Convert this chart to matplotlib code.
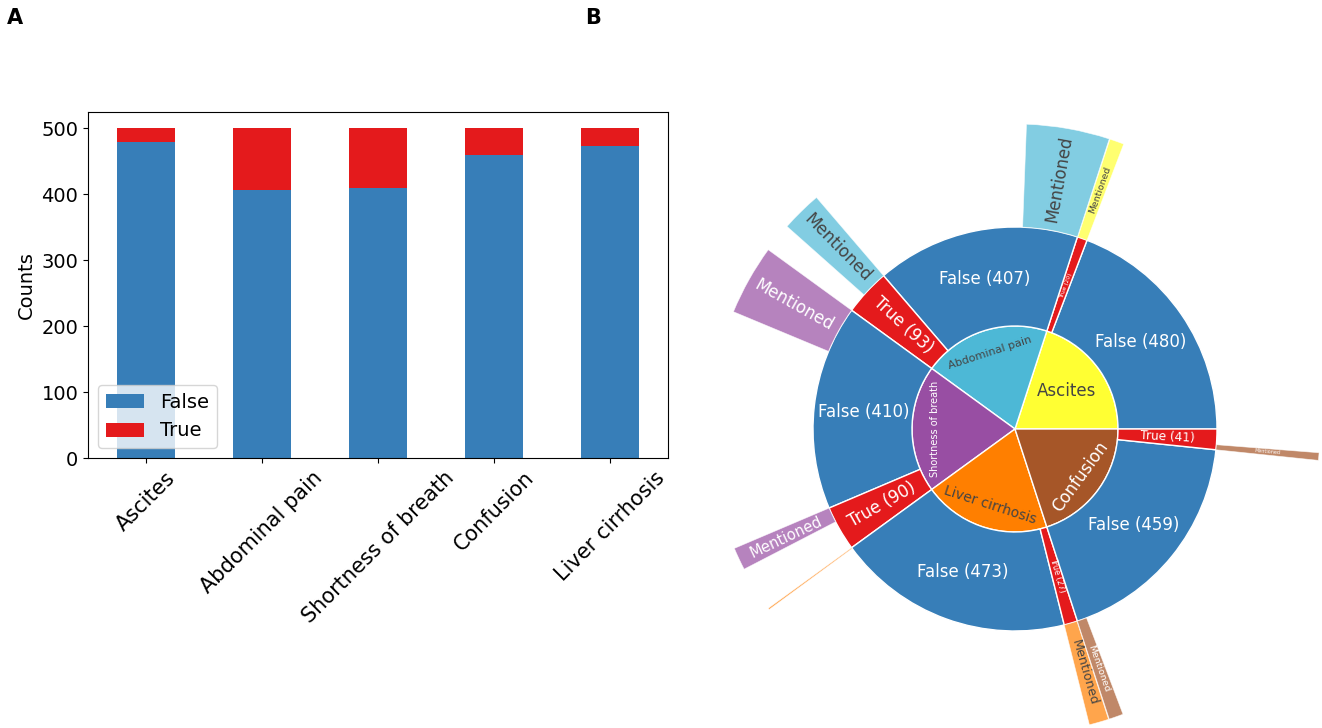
import matplotlib

matplotlib.use("Agg")

import math

import matplotlib.pyplot as plt
from matplotlib.patches import Wedge

# --- data -----------------------------------------------------------------
categories = ["Ascites", "Abdominal pain", "Shortness of breath", "Confusion", "Liver cirrhosis"]
false_counts = [480, 407, 410, 459, 473]
true_counts = [20, 93, 90, 41, 27]
# outer ring of panel B: "Mentioned" part of each False / True segment
mentioned_false = [0, 110, 93, 19, 2]
mentioned_true = [19, 54, 30, 10, 26]
# order of the symptoms around the sunburst (counter-clockwise from east)
sunburst_order = ["Ascites", "Abdominal pain", "Shortness of breath", "Liver cirrhosis", "Confusion"]

FALSE_COLOR = "#377EB8"
TRUE_COLOR = "#E41A1C"
SYMPTOM_COLORS = {
    "Ascites": "#FFFF33",
    "Abdominal pain": "#4DB8D6",
    "Shortness of breath": "#984EA3",
    "Liver cirrhosis": "#FF7F00",
    "Confusion": "#A65628",
}
# inner label style: orientation and font size
INNER_STYLE = {
    "Ascites": ("h", 12),
    "Abdominal pain": ("t", 8),
    "Shortness of breath": ("t", 7),
    "Liver cirrhosis": ("t", 10),
    "Confusion": ("t", 12),
}
DARK_TEXT = "#444444"
R1, R2, R3 = 103, 202, 305

plt.rcParams["font.family"] = "DejaVu Sans"

fig = plt.figure(figsize=(13.22, 7.28), dpi=100)

# --- panel A: stacked bars ------------------------------------------------
ax = fig.add_axes([88 / 1322, 1 - 458 / 728, 580 / 1322, 346 / 728])
x = range(len(categories))
ax.bar(x, false_counts, width=0.5, color=FALSE_COLOR, label="False")
ax.bar(x, true_counts, width=0.5, bottom=false_counts, color=TRUE_COLOR, label="True")
ax.set_xlim(-0.5, len(categories) - 0.5)
ax.set_ylim(0, 525)
ax.set_xticks(list(x))
ax.set_xticklabels(categories, rotation=45, fontsize=15)
ax.set_yticks([0, 100, 200, 300, 400, 500])
ax.tick_params(axis="y", labelsize=14)
ax.set_ylabel("Counts", fontsize=14)
ax.legend(loc="lower left", fontsize=14)


# --- panel B: sunburst ----------------------------------------------------
def is_light(hex_color):
    r, g, b = (int(hex_color[i:i + 2], 16) for i in (1, 3, 5))
    return (r * 299 + g * 587 + b * 114) / 1000 > 128


def radial_rotation(angle):
    a = (angle + 180) % 360 - 180
    if a > 90:
        a -= 180
    elif a < -90:
        a += 180
    return a


def tangential_rotation(angle):
    return radial_rotation(angle - 90)


def place(axis, text, angle, radius, rotation, size, color):
    rad = math.radians(angle)
    axis.text(radius * math.cos(rad), radius * math.sin(rad), text,
              rotation=rotation, rotation_mode="anchor", ha="center", va="center",
              fontsize=size, color=color)


def fit_size(dtheta, radius, cap=12):
    arc = radius * math.radians(dtheta)
    return min(cap, arc / 1.8)


axb = fig.add_axes([0.5, 0.0, 0.5, 1.0])
axb.set_xlim(-(1015 - 661), 1322 - 1015)
axb.set_ylim(-(728 - 429), 429)
axb.axis("off")

total = sum(false_counts) + sum(true_counts)
scale = 360 / total
start = 0.0
for name in sunburst_order:
    i = categories.index(name)
    base = SYMPTOM_COLORS[name]
    text_col = DARK_TEXT if is_light(base) else "white"
    span = (false_counts[i] + true_counts[i]) * scale
    axb.add_patch(Wedge((0, 0), R1, start, start + span, facecolor=base,
                        edgecolor="white", linewidth=1))
    orient, size = INNER_STYLE[name]
    mid = start + span / 2
    if orient == "h":
        place(axb, name, mid, 0.62 * R1, 0, size, text_col)
    else:
        place(axb, name, mid, 0.78 * R1, tangential_rotation(mid), size, text_col)

    seg_start = start
    for label, count, ment, col in (("False", false_counts[i], mentioned_false[i], FALSE_COLOR),
                                    ("True", true_counts[i], mentioned_true[i], TRUE_COLOR)):
        seg = count * scale
        axb.add_patch(Wedge((0, 0), R2, seg_start, seg_start + seg, width=R2 - R1,
                            facecolor=col, edgecolor="white", linewidth=1))
        smid = seg_start + seg / 2
        rmid = (R1 + R2) / 2
        txt = f"{label} ({count})"
        if label == "False":
            place(axb, txt, smid, rmid, 0, 12, "white")
        else:
            place(axb, txt, smid, rmid, radial_rotation(smid), fit_size(seg, rmid), "white")

        if ment > 0:
            mseg = ment * scale
            axb.add_patch(Wedge((0, 0), R3, seg_start, seg_start + mseg, width=R3 - R2,
                                facecolor=base, alpha=0.7, edgecolor="white", linewidth=0.5))
            rm = (R2 + R3) / 2
            if rm * math.radians(mseg) > 4:
                mm = seg_start + mseg / 2
                place(axb, "Mentioned", mm, rm, radial_rotation(mm),
                      fit_size(mseg, rm), text_col)
        seg_start += seg
    start += span

fig.text(15 / 1322, 1 - 18 / 728, "A", fontsize=15, fontweight="bold", ha="center", va="center")
fig.text(593 / 1322, 1 - 18 / 728, "B", fontsize=15, fontweight="bold", ha="center", va="center")

fig.savefig("out.png", dpi=100)
